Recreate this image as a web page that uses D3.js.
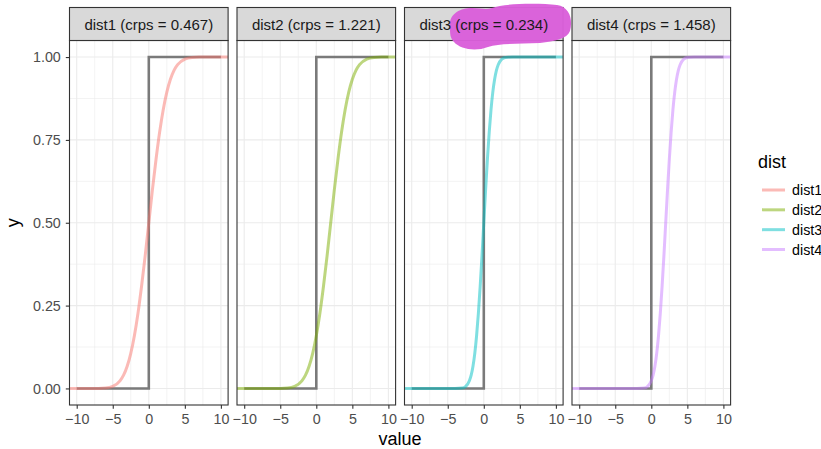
<!DOCTYPE html>
<html><head><meta charset="utf-8">
<script src="https://cdn.jsdelivr.net/npm/d3@7"></script>
<style>
html,body{margin:0;padding:0;background:#fff;}
svg{display:block;font-family:"Liberation Sans",Arial,Helvetica,sans-serif;}
</style></head>
<body><svg id="chart" width="821" height="449"></svg>
<script>
// ---- data ----
const distNames = ["dist1", "dist2", "dist3", "dist4"];
const crpsValues = ["0.467", "1.221", "0.234", "1.458"];
const distColors = ["#F8766D", "#7CAE00", "#00BFC4", "#C77CFF"];
// shared CDF heights
const cdfY = [0, 0, 0.001, 0.006, 0.023, 0.040, 0.067, 0.106, 0.159, 0.227, 0.309, 0.401, 0.5,
              0.599, 0.691, 0.773, 0.841, 0.894, 0.933, 0.960, 0.977, 0.994, 0.999, 1, 1];
const dist1X = [-12, -7, -6, -5, -4, -3.5, -3, -2.5, -2, -1.5, -1, -0.5, 0,
                0.5, 1, 1.5, 2, 2.5, 3, 3.5, 4, 5, 6, 7, 12];
const dist2X = [-12, -5, -4, -3, -2, -1.5, -1, -0.5, 0, 0.5, 1, 1.5, 2,
                2.5, 3, 3.5, 4, 4.5, 5, 5.5, 6, 7, 8, 9, 12];
const dist3X = [-12, -4, -3, -2.5, -2, -1.75, -1.5, -1.25, -1, -0.75, -0.5, -0.25, 0,
                0.25, 0.5, 0.75, 1, 1.25, 1.5, 1.75, 2, 2.5, 3, 4, 12];
const dist4X = [-12, -2, -1, -0.5, 0, 0.25, 0.5, 0.75, 1, 1.25, 1.5, 1.75, 2,
                2.25, 2.5, 2.75, 3, 3.25, 3.5, 3.75, 4, 4.5, 5, 6, 12];
const distX = [dist1X, dist2X, dist3X, dist4X];
// observation step (observed value 0)
const stepX = [-10, 0, 0, 10];
const stepY = [0, 0, 1, 1];
const xTicks = [-10, -5, 0, 5, 10];
const xMinor = [-7.5, -2.5, 2.5, 7.5];
const yTicks = [0, 0.25, 0.5, 0.75, 1];
const yMinor = [0.125, 0.375, 0.625, 0.875];

// ---- layout ----
const svg = d3.select("#chart");
const panelTop = 40.5, panelBottom = 405, stripTop = 7.5;
const panelW = 158.6, panelStep = 167.5, firstLeft = 69.5;
const y = d3.scaleLinear().domain([-0.05, 1.05]).range([panelBottom, panelTop]);

const defs = svg.append("defs");

distNames.forEach((name, i) => {
  const left = firstLeft + i * panelStep;
  const x = d3.scaleLinear().domain([-11, 11]).range([left, left + panelW]);
  const g = svg.append("g");
  defs.append("clipPath").attr("id", "clip" + i)
    .append("rect").attr("x", left).attr("y", panelTop).attr("width", panelW).attr("height", panelBottom - panelTop);

  g.append("rect").attr("x", left).attr("y", panelTop).attr("width", panelW)
    .attr("height", panelBottom - panelTop).attr("fill", "#fff");
  // grid
  const grid = g.append("g").attr("clip-path", `url(#clip${i})`);
  grid.selectAll(".vm").data(xMinor).join("line")
    .attr("x1", d => x(d)).attr("x2", d => x(d)).attr("y1", panelTop).attr("y2", panelBottom)
    .attr("stroke", "#ebebeb").attr("stroke-width", 0.6);
  grid.selectAll(".hm").data(yMinor).join("line")
    .attr("x1", left).attr("x2", left + panelW).attr("y1", d => y(d)).attr("y2", d => y(d))
    .attr("stroke", "#ebebeb").attr("stroke-width", 0.6);
  grid.selectAll(".vM").data(xTicks).join("line")
    .attr("x1", d => x(d)).attr("x2", d => x(d)).attr("y1", panelTop).attr("y2", panelBottom)
    .attr("stroke", "#ebebeb").attr("stroke-width", 1.1);
  grid.selectAll(".hM").data(yTicks).join("line")
    .attr("x1", left).attr("x2", left + panelW).attr("y1", d => y(d)).attr("y2", d => y(d))
    .attr("stroke", "#ebebeb").attr("stroke-width", 1.1);

  // step line
  const stepLine = d3.line().x(d => x(d[0])).y(d => y(d[1]));
  grid.append("path").datum(stepX.map((v, k) => [v, stepY[k]]))
    .attr("d", stepLine).attr("fill", "none").attr("stroke", "#7a7a7a")
    .attr("stroke-width", 2.6).attr("stroke-linejoin", "miter");
  // cdf curve
  const cdfLine = d3.line().x(d => x(d[0])).y(d => y(d[1])).curve(d3.curveMonotoneX);
  grid.append("path").datum(distX[i].map((v, k) => [v, cdfY[k]]))
    .attr("d", cdfLine).attr("fill", "none").attr("stroke", distColors[i])
    .attr("stroke-opacity", 0.5).attr("stroke-width", 3);

  // border
  g.append("rect").attr("x", left).attr("y", panelTop).attr("width", panelW)
    .attr("height", panelBottom - panelTop).attr("fill", "none").attr("stroke", "#333").attr("stroke-width", 1.1);

  // x axis
  const xa = g.append("g").attr("transform", `translate(0,${panelBottom})`)
    .call(d3.axisBottom(x).tickValues(xTicks).tickSize(3.7).tickPadding(5.5).tickFormat(d => d < 0 ? "\u2212" + Math.abs(d) : d));
  xa.select(".domain").remove();
  xa.selectAll("line").attr("stroke", "#333").attr("stroke-width", 1.1);
  xa.selectAll("text").attr("fill", "#4d4d4d").attr("font-size", 14.3).attr("font-family", null);

  // strip
  g.append("rect").attr("x", left).attr("y", stripTop).attr("width", panelW)
    .attr("height", panelTop - stripTop).attr("fill", "#d9d9d9").attr("stroke", "#333").attr("stroke-width", 1.1);
  if (i === 2) {
    g.append("path")
      .attr("d", `M${left+45.5},28 C${left+43.5},14 ${left+55.5},8 ${left+67.5},8 C${left+75.5},8 ${left+81.5},10 ${left+87.5},8 ` +
                 `C${left+100.5},3 ${left+135.5},3 ${left+152.5},5 C${left+165.5},7 ${left+168.5},20 ${left+165.5},31 ` +
                 `C${left+162.5},39 ${left+150.5},41 ${left+135.5},43 C${left+115.5},44 ${left+95.5},43 ${left+83.5},47 ` +
                 `C${left+70.5},52 ${left+55.5},49 ${left+49.5},42 C${left+45.5},38 ${left+45.5},33 ${left+45.5},28 Z`)
      .attr("fill", "#da5fda").attr("fill-opacity", 0.97);
  }
  g.append("text").attr("x", left + panelW / 2).attr("y", 29.5)
    .attr("text-anchor", "middle").attr("font-size", 15).attr("fill", "#1a1a1a")
    .text(`${name} (crps = ${crpsValues[i]})`);
});

// y axis on first panel
const ya = svg.append("g").attr("transform", `translate(${firstLeft},0)`)
  .call(d3.axisLeft(y).tickValues(yTicks).tickSize(3.7).tickPadding(5).tickFormat(d3.format(".2f")));
ya.select(".domain").remove();
ya.selectAll("line").attr("stroke", "#333").attr("stroke-width", 1.1);
ya.selectAll("text").attr("fill", "#4d4d4d").attr("font-size", 14.3).attr("font-family", null);

// axis titles
svg.append("text").attr("x", (firstLeft + firstLeft + 3 * panelStep + panelW) / 2).attr("y", 445)
  .attr("text-anchor", "middle").attr("font-size", 18).attr("fill", "#000").text("value");
svg.append("text").attr("transform", `translate(19,${y(0.5)}) rotate(-90)`)
  .attr("text-anchor", "middle").attr("font-size", 18).attr("fill", "#000").text("y");

// legend
const leg = svg.append("g");
leg.append("text").attr("x", 758).attr("y", 168).attr("font-size", 18).attr("fill", "#000").text("dist");
const legY = d3.scalePoint().domain(distNames).range([190, 249.5]);
distNames.forEach((name, i) => {
  leg.append("line").attr("x1", 762).attr("x2", 785).attr("y1", legY(name)).attr("y2", legY(name))
    .attr("stroke", distColors[i]).attr("stroke-opacity", 0.5).attr("stroke-width", 3);
  leg.append("text").attr("x", 792).attr("y", legY(name)).attr("dy", "0.35em")
    .attr("font-size", 14.3).attr("fill", "#000").text(name);
});
</script></body></html>
